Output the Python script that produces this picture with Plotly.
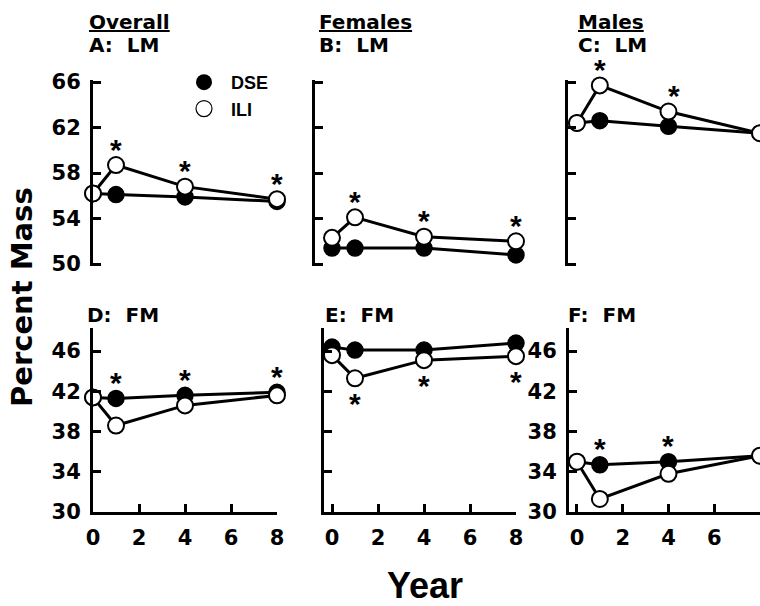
import plotly.graph_objects as go

W, H = 760, 606

# ---------------- data ----------------
years = [0, 1, 4, 8]
series_names = ["DSE", "ILI"]

A_dse = [56.2, 56.1, 55.9, 55.5]
A_ili = [56.2, 58.7, 56.8, 55.7]
B_dse = [51.4, 51.4, 51.4, 50.8]
B_ili = [52.3, 54.1, 52.4, 52.0]
C_dse = [62.4, 62.6, 62.1, 61.5]
C_ili = [62.4, 65.7, 63.4, 61.5]
D_dse = [41.4, 41.3, 41.6, 41.9]
D_ili = [41.4, 38.6, 40.6, 41.6]
E_dse = [46.4, 46.1, 46.1, 46.8]
E_ili = [45.6, 43.3, 45.1, 45.5]
F_dse = [35.0, 34.7, 35.0, 35.6]
F_ili = [35.0, 31.3, 33.8, 35.6]

lm_ticks = [50, 54, 58, 62, 66]
fm_ticks = [30, 34, 38, 42, 46]
year_ticks = [0, 2, 4, 6, 8]

group_titles = ["Overall", "Females", "Males"]
panel_titles = ["A:\u00a0 LM", "B:\u00a0 LM", "C:\u00a0 LM", "D:\u00a0 FM", "E:\u00a0 FM", "F:\u00a0 FM"]

# significance markers: (year index, which series, above/below)
A_stars = [(1, "ili", "up"), (2, "ili", "up"), (3, "ili", "up")]
B_stars = [(1, "ili", "up"), (2, "ili", "up"), (3, "ili", "up")]
C_stars = [(1, "ili", "up"), (2, "ili", "up")]
D_stars = [(1, "dse", "up"), (2, "dse", "up"), (3, "dse", "up")]
E_stars = [(1, "ili", "down"), (2, "ili", "down"), (3, "ili", "down")]
F_stars = [(1, "dse", "up"), (2, "dse", "up")]

# ---------------- layout geometry (pixels) ----------------
PX_PER_YEAR = 23.0
FONT = "Liberation Sans, Arial, sans-serif"
WIDE = "DejaVu Sans, Verdana, sans-serif"

def px(x):
    return x / W

def py(y):
    return 1 - y / H

panels = [
    dict(dse=A_dse, ili=A_ili, stars=A_stars, base=93, x0=0.0, x1=8.6, row=0, labels=True),
    dict(dse=B_dse, ili=B_ili, stars=B_stars, base=332, x0=-0.74, x1=8.6, row=0, labels=False),
    dict(dse=C_dse, ili=C_ili, stars=C_stars, base=577, x0=-0.4, x1=8.0, row=0, labels=False),
    dict(dse=D_dse, ili=D_ili, stars=D_stars, base=93, x0=0.0, x1=8.0, row=1, labels=True),
    dict(dse=E_dse, ili=E_ili, stars=E_stars, base=332, x0=-0.35, x1=8.0, row=1, labels=False),
    dict(dse=F_dse, ili=F_ili, stars=F_stars, base=577, x0=-0.35, x1=8.0, row=1, labels=True),
]

fig = go.Figure()
layout = dict(
    width=W, height=H,
    margin=dict(l=0, r=0, t=0, b=0, autoexpand=False),
    paper_bgcolor="white", plot_bgcolor="white",
    font=dict(family=FONT, color="black"),
    showlegend=True,
)
annotations = []
tickfont = dict(size=21, family=WIDE, color="black", weight="bold")

LM_PXU = (264 - 82) / 16.0  # pixels per unit, top row

for i, p in enumerate(panels):
    n = i + 1
    xa = "xaxis" if n == 1 else f"xaxis{n}"
    ya = "yaxis" if n == 1 else f"yaxis{n}"
    xr = "x" if n == 1 else f"x{n}"
    yr = "y" if n == 1 else f"y{n}"

    x1 = p["x1"]
    left = p["base"] + p["x0"] * PX_PER_YEAR
    right = min(p["base"] + x1 * PX_PER_YEAR, W)

    if p["row"] == 0:
        pad = 0.15
        yrange = [50 - pad, 66 + pad]
        ydom = [py(264 + pad * LM_PXU), py(82 - pad * LM_PXU)]
        yticks = lm_ticks
    else:
        yrange = [30, 48.3]
        ydom = [py(512), py(328)]
        yticks = fm_ticks

    layout[xa] = dict(
        domain=[px(left), px(right)], range=[p["x0"], x1], anchor=yr,
        showgrid=False, zeroline=False, automargin=False,
        visible=(p["row"] == 1),
        showline=True, linewidth=3, linecolor="black",
        ticks="inside", ticklen=8, tickwidth=3, tickcolor="black",
        tickvals=year_ticks, ticklabelstandoff=5,
        tickfont=tickfont,
    )
    layout[ya] = dict(
        domain=ydom, range=yrange, anchor=xr,
        showgrid=False, zeroline=False, automargin=False,
        showline=True, linewidth=3, linecolor="black",
        ticks="inside", ticklen=8, tickwidth=3, tickcolor="black",
        tickvals=yticks, showticklabels=p["labels"], ticklabelstandoff=5,
        tickfont=tickfont,
    )

    fig.add_trace(go.Scatter(
        x=years, y=p["dse"], mode="lines+markers", xaxis=xr, yaxis=yr,
        name=series_names[0], showlegend=False, cliponaxis=False,
        line=dict(color="black", width=3),
        marker=dict(size=16, color="black", line=dict(color="black", width=1.5)),
    ))
    fig.add_trace(go.Scatter(
        x=years, y=p["ili"], mode="lines+markers", xaxis=xr, yaxis=yr,
        name=series_names[1], showlegend=False, cliponaxis=False,
        line=dict(color="black", width=3),
        marker=dict(size=16, color="white", line=dict(color="black", width=2)),
    ))

    for (k, which, d) in p["stars"]:
        yv = p["ili"][k] if which == "ili" else p["dse"][k]
        if which == "dse" and d == "up":
            yv = max(p["ili"][k], p["dse"][k])
        annotations.append(dict(
            x=years[k], y=yv, xref=xr, yref=yr, text="*", showarrow=False,
            font=dict(size=30, family=FONT, color="black", weight="bold"),
            yshift=16 if d == "up" else -25,
            xshift=6 if (i == 2 and k == 2) else 0,
        ))

# legend entries (markers only)
fig.add_trace(go.Scatter(x=[None], y=[None], mode="markers", name=series_names[0],
                         marker=dict(size=16, color="black")))
fig.add_trace(go.Scatter(x=[None], y=[None], mode="markers", name=series_names[1],
                         marker=dict(size=16, color="white", line=dict(color="black", width=1.2))))
layout["legend"] = dict(
    x=px(177), y=py(64), xanchor="left", yanchor="top",
    bgcolor="rgba(0,0,0,0)", borderwidth=0,
    font=dict(size=18, family=FONT, color="black", weight="bold"),
    tracegroupgap=0, itemwidth=44,
)

# titles
title_font = dict(size=20, family=WIDE, color="black", weight="bold")
title_x = [88, 318, 577]
for j, t in enumerate(group_titles):
    annotations.append(dict(x=px(title_x[j]), y=py(22), xref="paper", yref="paper",
                            xanchor="left", yanchor="middle", showarrow=False,
                            text=f"<u>{t}</u>", font=title_font, borderpad=0))
    annotations.append(dict(x=px(title_x[j]), y=py(45), xref="paper", yref="paper",
                            xanchor="left", yanchor="middle", showarrow=False,
                            text=panel_titles[j], font=title_font, borderpad=0))
bottom_title_x = [86, 324, 567]
for j in range(3):
    annotations.append(dict(x=px(bottom_title_x[j]), y=py(315), xref="paper", yref="paper",
                            xanchor="left", yanchor="middle", showarrow=False,
                            text=panel_titles[3 + j], font=title_font, borderpad=0))

annotations.append(dict(x=px(22), y=py(297), xref="paper", yref="paper",
                        xanchor="center", yanchor="middle", showarrow=False, textangle=-90,
                        text="Percent Mass",
                        font=dict(size=29, family=WIDE, color="black", weight="bold")))
annotations.append(dict(x=px(425), y=py(585), xref="paper", yref="paper",
                        xanchor="center", yanchor="middle", showarrow=False,
                        text="Year",
                        font=dict(size=36, family=FONT, color="black", weight="bold")))

layout["annotations"] = annotations
fig.update_layout(**layout)
fig.write_html(
    "out.html",
    config={"displayModeBar": False},
    post_script="document.body.style.margin='0px';document.body.style.overflow='hidden';",
)
